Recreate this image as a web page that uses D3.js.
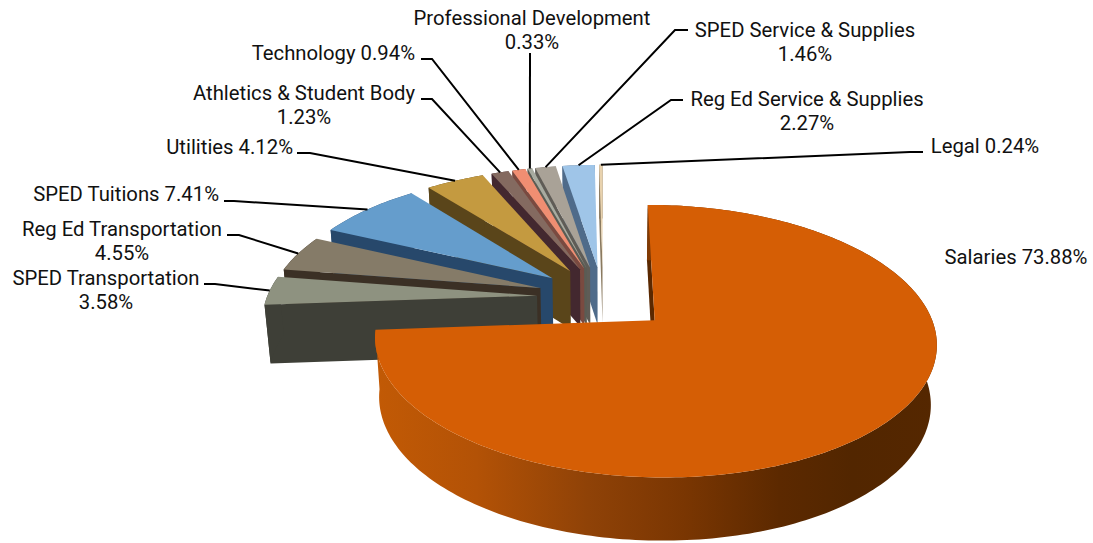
<!DOCTYPE html>
<html>
<head>
<meta charset="utf-8">
<script src="https://cdn.jsdelivr.net/npm/d3@7"></script>
<style>
  html, body { margin: 0; background: #fff; }
  text { font-family: Roboto, sans-serif; font-size: 20.3px; fill: #111; }
</style>
</head>
<body>
<svg id="chart" width="1093" height="543"></svg>
<script>
// Budget shares, clockwise from twelve o'clock
const categories = ["Salaries", "SPED Transportation", "Reg Ed Transportation", "SPED Tuitions",
  "Utilities", "Athletics & Student Body", "Technology", "Professional Development",
  "SPED Service & Supplies", "Reg Ed Service & Supplies", "Legal"];
const shares = [73.88, 3.58, 4.55, 7.41, 4.12, 1.23, 0.94, 0.33, 1.46, 2.27, 0.24];

const topColors  = ["#d55e05", "#8e9280", "#857b68", "#659dcc", "#c49a40", "#846a60",
  "#f08e72", "#a8aba0", "#a9a297", "#9fc5e8", "#e8d2ae"];
const wallColors = ["#5a2800", "#3e3f37", "#3b3025", "#27486b", "#5a451a", "#43282f",
  "#7a4a40", "#5a5c54", "#5f5c56", "#4f6b8a", "#8a7a60"];

// Label text lines, their anchor and the leader's elbow
const labelLayout = [
  { lines: ["Salaries 73.88%"], x: 1016, y: 257, anchor: "middle" },
  { lines: ["SPED Transportation", "3.58%"], x: 106, y: 278, anchor: "middle", elbow: [[204, 284], [215, 284]] },
  { lines: ["Reg Ed Transportation", "4.55%"], x: 122, y: 229, anchor: "middle", elbow: [[227, 235], [239, 235]] },
  { lines: ["SPED Tuitions 7.41%"], x: 219, y: 194, anchor: "end", elbow: [[224, 201], [234, 201]] },
  { lines: ["Utilities 4.12%"], x: 293, y: 147, anchor: "end", elbow: [[297, 153], [310, 153]] },
  { lines: ["Athletics & Student Body", "1.23%"], x: 304, y: 93, anchor: "middle", elbow: [[421, 99], [432, 99]] },
  { lines: ["Technology 0.94%"], x: 415, y: 53, anchor: "end", elbow: [[421, 59], [432, 59]] },
  { lines: ["Professional Development", "0.33%"], x: 532, y: 18, anchor: "middle", elbow: [[530, 53]] },
  { lines: ["SPED Service & Supplies", "1.46%"], x: 805, y: 30, anchor: "middle", elbow: [[688, 30], [675, 30]] },
  { lines: ["Reg Ed Service & Supplies", "2.27%"], x: 807, y: 99, anchor: "middle", elbow: [[683, 100], [671, 100]] },
  { lines: ["Legal 0.24%"], x: 985, y: 146, anchor: "middle", elbow: [[923, 152], [910, 152]] }
];

// Slices are pulled out from a shared centre; Salaries sits a little further forward
const explode = 0.245;
const salariesExtra = { x: 0.007, y: -0.012 };
const view = { cx: 603, cy: 297, sx: 270, sy: 126, depth: 58.5, pY: 0.15, baseInset: 0.018, depthGrowth: 0.45 };

// Perspective projection of a disc point; z = 0 is the top face, z = 1 the base
function project(x, y, z) {
  const w = 1 + view.pY * y;
  return [
    view.cx + view.sx * x / w * (1 - view.baseInset * z),
    view.cy - view.sy * y / w + z * view.depth * (1 - view.depthGrowth * view.pY * y)
  ];
}

const svg = d3.select("#chart");
const defs = svg.append("defs");
const rimGradient = defs.append("linearGradient").attr("id", "salariesRim");
[[0, "#c25a05"], [0.18, "#b35206"], [0.38, "#8f4207"], [0.55, "#7a3602"], [0.72, "#5c2900"], [0.85, "#522600"], [1, "#552700"]]
  .forEach(([o, c]) => rimGradient.append("stop").attr("offset", o).attr("stop-color", c));

const pie = d3.pie().sort(null).startAngle(0).endAngle(2 * Math.PI);
const arcs = pie(shares);
const line = d3.line();

const slices = arcs.map((a, i) => {
  const mid = (a.startAngle + a.endAngle) / 2;
  const ox = explode * Math.sin(mid) + (i === 0 ? salariesExtra.x : 0);
  const oy = explode * Math.cos(mid) + (i === 0 ? salariesExtra.y : 0);
  const steps = Math.max(2, Math.ceil((a.endAngle - a.startAngle) / 0.02));
  const angles = d3.range(steps + 1).map(k => a.startAngle + (a.endAngle - a.startAngle) * k / steps);
  const rim = z => angles.map(t => project(ox + Math.sin(t), oy + Math.cos(t), z));
  return {
    i, mid, ox, oy,
    apexTop: project(ox, oy, 0), apexBase: project(ox, oy, 1),
    rimTop: rim(0), rimBase: rim(1),
    tip: project(ox + Math.sin(mid), oy + Math.cos(mid), 0)
  };
});

// Back slices first, Salaries last, so nearer faces cover the ones behind them
const order = d3.range(1, slices.length).reverse().concat(0);
const chart = svg.append("g");
order.forEach(idx => {
  const s = slices[idx];
  const g = chart.append("g");
  g.append("path")
    .attr("d", line([s.apexTop, s.rimTop[0], s.rimBase[0], s.apexBase]) + "Z")
    .attr("fill", wallColors[idx]);
  g.append("path")
    .attr("d", line(s.rimTop.concat(s.rimBase.slice().reverse())) + "Z")
    .attr("fill", idx === 0 ? "url(#salariesRim)" : wallColors[idx]);
  g.append("path")
    .attr("d", line([s.apexTop].concat(s.rimTop)) + "Z")
    .attr("fill", topColors[idx]);
});

// Leaders and labels
slices.forEach((s, i) => {
  const l = labelLayout[i];
  if (l.elbow) {
    svg.append("path")
      .attr("d", line(l.elbow.concat([s.tip])))
      .attr("fill", "none").attr("stroke", "#000").attr("stroke-width", 2);
  }
  const t = svg.append("text").attr("text-anchor", l.anchor).attr("x", l.x).attr("y", l.y + 7);
  l.lines.forEach((txt, k) => {
    t.append("tspan").attr("x", l.x).attr("dy", k ? 24 : 0).text(txt);
  });
});
</script>
</body>
</html>
